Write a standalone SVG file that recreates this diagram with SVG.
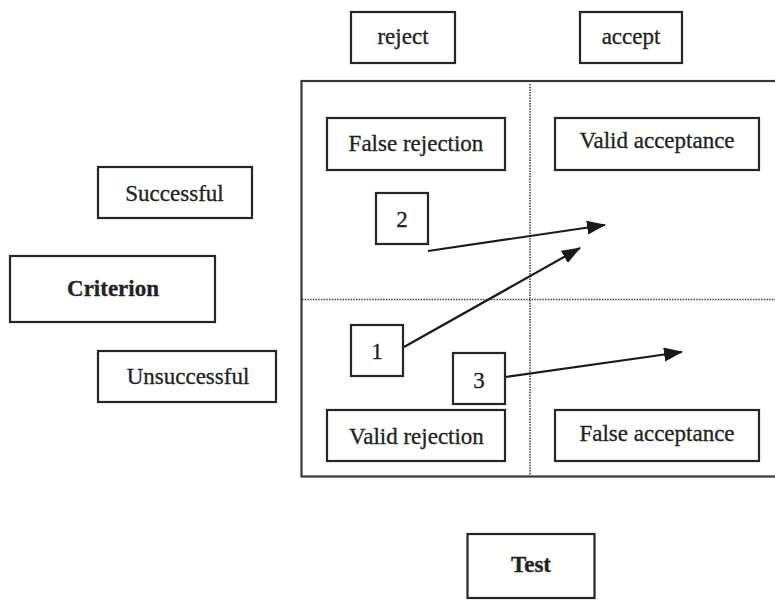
<svg xmlns="http://www.w3.org/2000/svg" width="775" height="600" viewBox="0 0 775 600">
  <defs>
    <marker id="arr" markerUnits="userSpaceOnUse" markerWidth="20" markerHeight="16" refX="18" refY="7" orient="auto">
      <path d="M0,0 L19,7 L0,14 z" fill="#1a1a1a"/>
    </marker>
  </defs>
  <style>
    .box { fill: #ffffff; stroke: #262626; stroke-width: 2.2; }
    .frame { fill: none; stroke: #383838; stroke-width: 2.2; }
    .dot { stroke: #444; stroke-width: 1.6; stroke-dasharray: 1.5 1.2; fill: none; }
    .t { font-family: "Liberation Serif", "Times New Roman", serif; font-size: 23px; fill: #222; text-anchor: middle; stroke: #222; stroke-width: 0.3; }
    .b { font-weight: bold; }
    .conn { stroke: #1a1a1a; stroke-width: 2.2; fill: none; marker-end: url(#arr); }
  </style>
  <rect width="775" height="600" fill="#ffffff"/>

  <g id="matrix">
    <rect class="frame" x="301.5" y="81" width="480" height="395.5"/>
    <line class="dot" x1="530" y1="84" x2="530" y2="476"/>
    <line class="dot" x1="302" y1="299.5" x2="775" y2="299.5"/>
  </g>

  <g id="reject"><rect class="box" x="351" y="12" width="104" height="51"/><text class="t" x="403" y="44">reject</text></g>
  <g id="accept"><rect class="box" x="580" y="12" width="102" height="51"/><text class="t" x="631" y="44">accept</text></g>

  <g id="false-rejection"><rect class="box" x="327" y="118" width="178" height="52"/><text class="t" x="416" y="151">False rejection</text></g>
  <g id="valid-acceptance"><rect class="box" x="555" y="118" width="204" height="52"/><text class="t" x="657" y="148">Valid acceptance</text></g>
  <g id="valid-rejection"><rect class="box" x="327" y="410" width="178" height="51"/><text class="t" x="416.5" y="444">Valid rejection</text></g>
  <g id="false-acceptance"><rect class="box" x="555" y="410" width="204" height="51"/><text class="t" x="657" y="441">False acceptance</text></g>

  <g id="n2"><rect class="box" x="376" y="193" width="52" height="51"/><text class="t" x="402" y="227">2</text></g>
  <g id="n1"><rect class="box" x="351" y="325" width="52" height="51"/><text class="t" x="377" y="359">1</text></g>
  <g id="n3"><rect class="box" x="453" y="353" width="52" height="51"/><text class="t" x="479" y="388">3</text></g>

  <g id="successful"><rect class="box" x="98" y="167" width="154" height="51"/><text class="t" x="174.5" y="201">Successful</text></g>
  <g id="criterion"><rect class="box" x="10" y="256" width="205" height="66"/><text class="t b" x="113" y="296">Criterion</text></g>
  <g id="unsuccessful"><rect class="box" x="98" y="351" width="178" height="51"/><text class="t" x="188" y="384">Unsuccessful</text></g>

  <g id="test"><rect class="box" x="467.5" y="534" width="127" height="64"/><text class="t b" x="531" y="572">Test</text></g>

  <g id="connectors">
    <line class="conn" x1="428" y1="251" x2="605" y2="225"/>
    <line class="conn" x1="404" y1="347" x2="580" y2="248"/>
    <line class="conn" x1="506" y1="377" x2="682" y2="352"/>
  </g>
</svg>
